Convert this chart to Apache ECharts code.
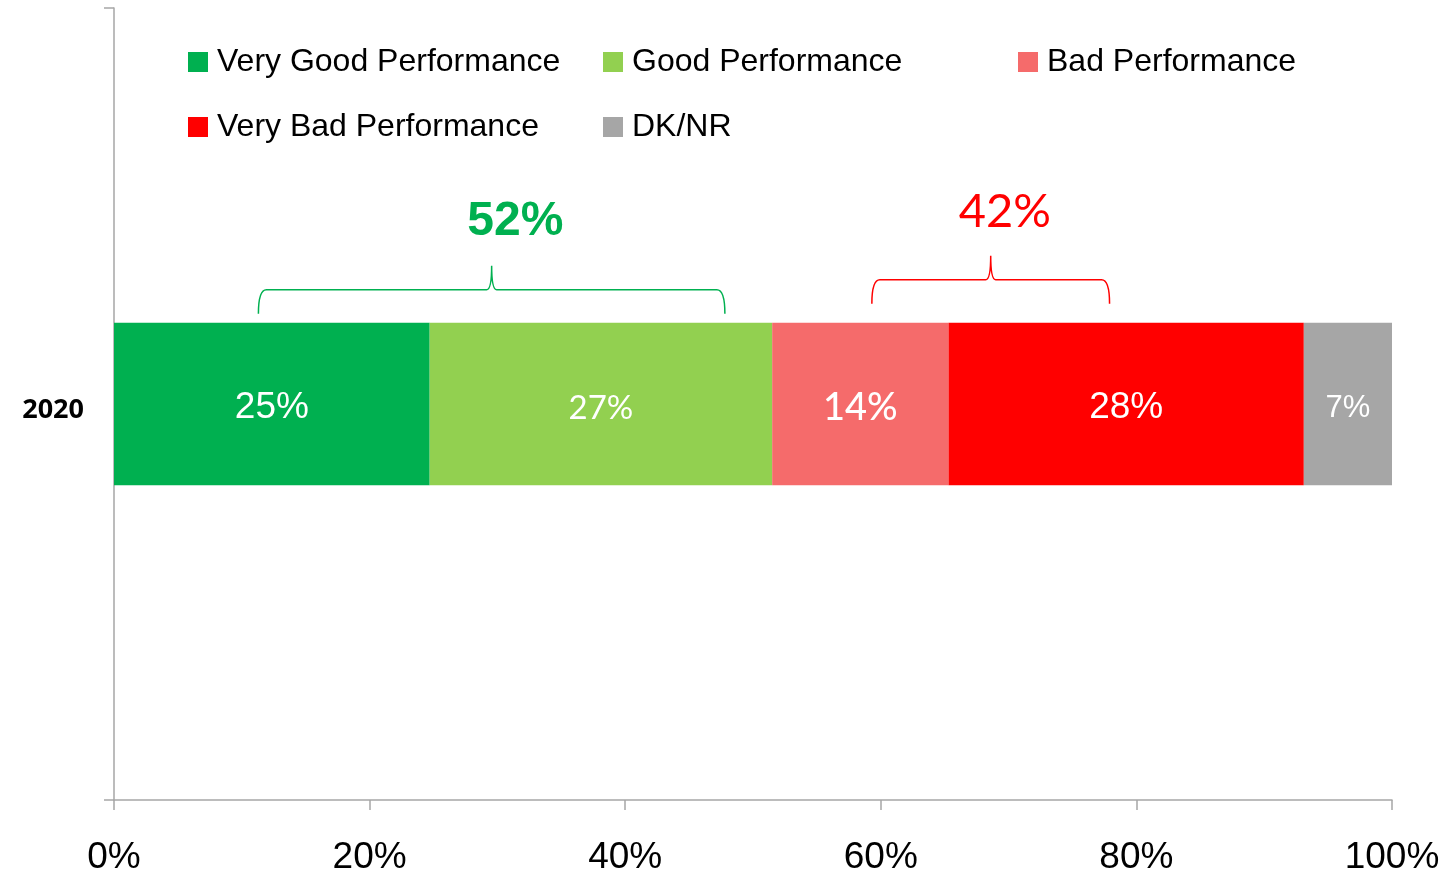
<!DOCTYPE html>
<html>
<head>
<meta charset="utf-8">
<script src="https://cdn.jsdelivr.net/npm/echarts@6/dist/echarts.min.js"></script>
<style>
  html, body { margin: 0; padding: 0; background: #fff; }
  #chart { width: 1454px; height: 874px; }
</style>
</head>
<body>
<div id="chart"></div>
<script>
const categories = ["2020"];
const seriesNames = ["Very Good Performance", "Good Performance", "Bad Performance", "Very Bad Performance", "DK/NR"];
const seriesValues = [[24.7], [26.8], [13.8], [27.8], [6.9]];
const seriesColors = ["#00b050", "#92d050", "#f56b6b", "#ff0000", "#a6a6a6"];
const xTicks = [0, 20, 40, 60, 80, 100];

// brace annotations: span in data units, label text and where its label sits
const braceFrom = [11.3, 59.3];
const braceTo = [47.8, 77.9];
const braceLabels = ["52%", "42%"];
const braceLabelAt = [31.4, 69.7];
const braceColors = ["#00b050", "#ff0000"];

const labelFonts = [
  { fontFamily: "Liberation Sans", fontSize: 37 },
  { fontFamily: "Lato", fontSize: 33 },
  { fontFamily: "Lato", fontSize: 38, fontWeight: 500 },
  { fontFamily: "Liberation Sans", fontSize: 37 },
  { fontFamily: "Liberation Sans", fontSize: 31 }
];

const chart = echarts.init(document.getElementById("chart"));

const series = seriesNames.map((name, i) => ({
  name: name,
  type: "bar",
  stack: "total",
  barWidth: "20.5%",
  data: seriesValues[i],
  itemStyle: { color: seriesColors[i] },
  label: Object.assign({
    show: true,
    position: "inside",
    offset: [0, 4],
    color: "#fff",
    formatter: p => Math.round(p.value) + "%"
  }, labelFonts[i])
}));

// braces drawn as a custom series so they follow the x scale
series.push({
  type: "custom",
  name: "braces",
  silent: true,
  z: 5,
  data: braceFrom.map((f, i) => [f, braceTo[i], braceLabelAt[i], i]),
  encode: { x: [0, 1] },
  renderItem: (params, api) => {
    const i = api.value(3);
    const x1 = api.coord([api.value(0), categories[0]])[0];
    const x2 = api.coord([api.value(1), categories[0]])[0];
    const xl = api.coord([api.value(2), categories[0]])[0];
    const yc = api.coord([0, categories[0]])[1];
    const barTop = yc - api.size([0, 1])[1] * 0.205 / 2;
    const xc = (x1 + x2) / 2;
    const lift = i === 0 ? 9 : 19;
    const yEnd = barTop - lift;
    const yMid = yEnd - 24;
    const yTip = yMid - 24;
    const d = "M" + x1 + "," + yEnd +
      " Q" + x1 + "," + yMid + " " + (x1 + 8) + "," + yMid +
      " L" + (xc - 5) + "," + yMid +
      " Q" + xc + "," + yMid + " " + xc + "," + yTip +
      " Q" + xc + "," + yMid + " " + (xc + 5) + "," + yMid +
      " L" + (x2 - 8) + "," + yMid +
      " Q" + x2 + "," + yMid + " " + x2 + "," + yEnd;
    return {
      type: "group",
      children: [
        {
          type: "path",
          shape: { pathData: d },
          style: { fill: null, stroke: braceColors[i], lineWidth: 1.5 }
        },
        {
          type: "text",
          x: xl,
          y: yTip - 44,
          style: {
            text: braceLabels[i],
            fill: braceColors[i],
            fontFamily: i === 0 ? "Liberation Sans" : "Lato",
            fontWeight: i === 0 ? "bold" : "normal",
            fontSize: i === 0 ? 48 : 47,
            align: "center",
            verticalAlign: "middle"
          }
        }
      ]
    };
  }
});

const legendText = { fontFamily: "Liberation Sans", fontSize: 32, color: "#000", padding: [0, 0, 0, 4] };
const mkLegend = (left, names) => ({
  orient: "vertical",
  left: left,
  top: 41,
  itemGap: 33,
  itemWidth: 20,
  itemHeight: 20,
  icon: "rect",
  selectedMode: false,
  textStyle: legendText,
  data: names
});

chart.setOption({
  animation: false,
  grid: { left: 114, right: 62, top: 8, bottom: 74, outerBoundsMode: "none" },
  legend: [
    mkLegend(183, [seriesNames[0], seriesNames[3]]),
    mkLegend(598, [seriesNames[1], seriesNames[4]]),
    mkLegend(1013, [seriesNames[2]])
  ],
  xAxis: {
    type: "value",
    min: 0,
    max: 100,
    interval: 20,
    axisLine: { show: true, lineStyle: { color: "#a6a6a6", width: 1.5 } },
    axisTick: { show: true, length: 10, lineStyle: { color: "#a6a6a6", width: 1.5 } },
    splitLine: { show: false },
    axisLabel: {
      formatter: v => xTicks.includes(v) ? v + "%" : "",
      fontFamily: "Liberation Sans",
      fontSize: 37,
      color: "#000",
      margin: 39
    }
  },
  yAxis: {
    type: "category",
    data: categories,
    axisLine: { show: true, lineStyle: { color: "#a6a6a6", width: 1.5 } },
    axisTick: { show: true, length: 10, lineStyle: { color: "#a6a6a6", width: 1.5 } },
    axisLabel: {
      fontFamily: "Open Sans",
      fontWeight: "bold",
      fontSize: 27,
      color: "#000",
      margin: 30,
      lineHeight: 46,
      verticalAlign: "top",
      padding: [-17, 0, 0, 0]
    }
  },
  series: series
});
</script>
</body>
</html>
